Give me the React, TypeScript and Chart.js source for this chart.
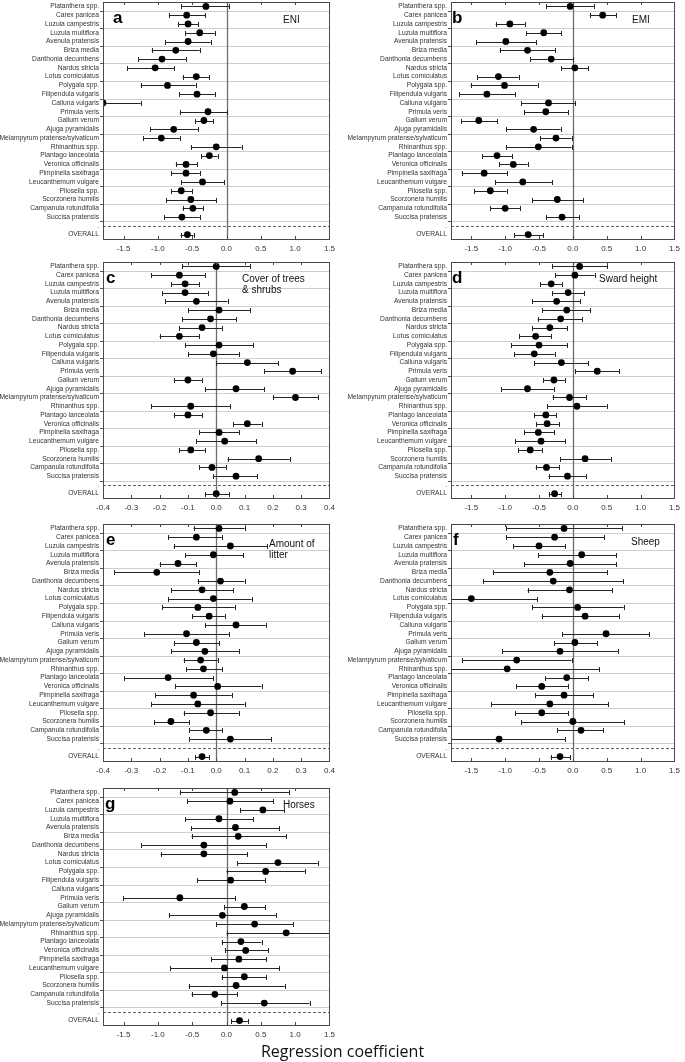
import React, { useEffect, useRef } from 'react';
import { Chart, registerables } from 'chart.js';
Chart.register(...registerables);
Chart.defaults.font.family = '"Liberation Sans", Arial, sans-serif';

const species = [
  'Platanthera spp.', 'Carex panicea', 'Luzula campestris', 'Luzula multiflora', 'Avenula pratensis',
  'Briza media', 'Danthonia decumbens', 'Nardus stricta', 'Lotus corniculatus', 'Polygala spp.',
  'Filipendula vulgaris', 'Calluna vulgaris', 'Primula veris', 'Galium verum', 'Ajuga pyramidalis',
  'Melampyrum pratense/sylvaticum', 'Rhinanthus spp.', 'Plantago lanceolata', 'Veronica officinalis',
  'Pimpinella saxifraga', 'Leucanthemum vulgare', 'Pilosella spp.', 'Scorzonera humilis',
  'Campanula rotundifolia', 'Succisa pratensis', '.', 'OVERALL',
];

const ticksWide = [-1.5, -1.0, -0.5, 0, 0.5, 1.0, 1.5];
const ticksNarrow = [-0.4, -0.3, -0.2, -0.1, 0, 0.1, 0.2, 0.3, 0.4];

// a: ENI
const eniMean = [-0.30,-0.58,-0.56,-0.39,-0.56,-0.74,-0.94,-1.04,-0.44,-0.86,-0.43,-1.80,-0.27,-0.33,-0.77,-0.95,-0.15,-0.25,-0.59,-0.59,-0.35,-0.66,-0.52,-0.49,-0.65,null,-0.57];
const eniLow = [-0.66,-0.84,-0.71,-0.60,-0.89,-1.09,-1.29,-1.45,-0.64,-1.25,-0.69,-2.30,-0.68,-0.46,-1.11,-1.21,-0.52,-0.37,-0.74,-0.81,-0.66,-0.81,-0.88,-0.64,-0.91,null,-0.67];
const eniHigh = [0.04,-0.31,-0.41,-0.17,-0.23,-0.39,-0.59,-0.76,-0.25,-0.45,-0.17,-1.25,0.01,-0.19,-0.41,-0.68,0.22,-0.13,-0.43,-0.39,-0.03,-0.50,-0.15,-0.34,-0.39,null,-0.48];

// b: EMI
const emiMean = [-0.04,0.44,-0.93,-0.43,-0.99,-0.67,-0.32,0.03,-1.10,-1.01,-1.27,-0.36,-0.40,-1.39,-0.58,-0.25,-0.51,-1.12,-0.88,-1.31,-0.74,-1.22,-0.23,-1.00,-0.16,null,-0.66];
const emiLow = [-0.39,0.25,-1.14,-0.69,-1.43,-1.08,-0.63,-0.17,-1.41,-1.51,-1.68,-0.76,-0.72,-1.65,-0.99,-0.48,-0.99,-1.34,-1.09,-1.64,-1.15,-1.46,-0.60,-1.22,-0.40,null,-0.87];
const emiHigh = [0.31,0.64,-0.71,-0.17,-0.54,-0.26,0.00,0.23,-0.80,-0.52,-0.85,0.03,-0.07,-1.12,-0.18,-0.02,-0.02,-0.90,-0.67,-0.97,-0.31,-0.98,0.15,-0.78,0.09,null,-0.44];

// c: Cover of trees & shrubs
const coverMean = [0.00,-0.13,-0.11,-0.11,-0.07,0.01,-0.02,-0.05,-0.13,0.01,-0.01,0.11,0.27,-0.10,0.07,0.28,-0.09,-0.10,0.11,0.01,0.03,-0.09,0.15,-0.015,0.07,null,0.00];
const coverLow = [-0.12,-0.23,-0.16,-0.19,-0.18,-0.10,-0.12,-0.13,-0.20,-0.11,-0.10,0.00,0.17,-0.15,-0.04,0.20,-0.23,-0.15,0.06,-0.06,-0.07,-0.13,0.04,-0.06,-0.01,null,-0.04];
const coverHigh = [0.12,-0.04,-0.06,-0.03,0.04,0.12,0.07,0.02,-0.06,0.13,0.08,0.22,0.37,-0.05,0.17,0.36,0.05,-0.05,0.16,0.08,0.14,-0.04,0.26,0.035,0.145,null,0.045];

// d: Sward height
const swardMean = [0.10,0.03,-0.32,-0.07,-0.24,-0.09,-0.18,-0.34,-0.55,-0.50,-0.57,-0.17,0.36,-0.28,-0.67,-0.05,0.06,-0.40,-0.38,-0.51,-0.47,-0.63,0.18,-0.39,-0.08,null,-0.27];
const swardLow = [-0.31,-0.26,-0.48,-0.31,-0.60,-0.45,-0.52,-0.60,-0.79,-0.91,-0.87,-0.57,0.03,-0.44,-1.06,-0.30,-0.38,-0.57,-0.54,-0.72,-0.85,-0.81,-0.19,-0.55,-0.36,null,-0.35];
const swardHigh = [0.51,0.32,-0.16,0.17,0.11,0.26,0.14,-0.08,-0.32,-0.08,-0.27,0.23,0.68,-0.12,-0.28,0.20,0.50,-0.25,-0.20,-0.28,-0.11,-0.45,0.56,-0.20,0.20,null,-0.17];

// e: Amount of litter
const litterMean = [0.01,-0.07,0.05,-0.01,-0.135,-0.21,0.015,-0.05,-0.01,-0.065,-0.025,0.07,-0.105,-0.07,-0.04,-0.055,-0.045,-0.17,0.005,-0.08,-0.065,-0.02,-0.16,-0.035,0.05,null,-0.05];
const litterLow = [-0.08,-0.17,-0.15,-0.11,-0.20,-0.36,-0.065,-0.16,-0.17,-0.19,-0.085,-0.04,-0.255,-0.15,-0.16,-0.115,-0.105,-0.325,-0.145,-0.215,-0.23,-0.115,-0.22,-0.095,-0.095,null,-0.075];
const litterHigh = [0.10,0.02,0.18,0.095,-0.07,-0.06,0.10,0.06,0.125,0.065,0.03,0.175,0.045,0.01,0.08,0.005,0.02,-0.01,0.16,0.055,0.10,0.08,-0.095,0.02,0.195,null,-0.025];

// f: Sheep
const sheepMean = [-0.13,-0.27,-0.50,0.13,-0.04,-0.34,-0.29,-0.05,-1.50,0.07,0.18,null,0.49,0.03,-0.19,-0.83,-0.97,-0.09,-0.46,-0.13,-0.34,-0.46,0.00,0.12,-1.09,null,-0.19];
const sheepLow = [-0.99,-0.99,-0.88,-0.51,-0.72,-1.18,-1.33,-0.67,-2.5,-0.60,-0.46,null,-0.16,-0.28,-1.04,-1.64,-2.5,-0.41,-0.84,-0.56,-1.21,-0.85,-0.76,-0.23,-2.5,null,-0.33];
const sheepHigh = [0.73,0.46,-0.11,0.64,0.64,0.51,0.74,0.58,-0.53,0.75,0.68,null,1.13,0.36,0.67,-0.02,0.39,0.23,-0.07,0.30,0.52,-0.07,0.76,0.45,-0.11,null,-0.04];

// g: Horses
const horsesMean = [0.12,0.05,0.53,-0.11,0.13,0.17,-0.33,-0.33,0.75,0.57,0.06,null,-0.68,0.26,-0.06,0.41,0.87,0.21,0.28,0.18,-0.03,0.26,0.14,-0.17,0.55,null,0.19];
const horsesLow = [-0.68,-0.57,0.20,-0.60,-0.52,-0.51,-1.24,-0.96,0.16,0.00,-0.43,null,-1.51,-0.03,-0.84,-0.15,0.00,-0.07,-0.02,-0.22,-0.82,-0.07,-0.55,-0.51,-0.08,null,0.07];
const horsesHigh = [0.91,0.68,0.84,0.39,0.77,0.87,0.58,0.30,1.33,1.14,0.56,null,0.13,0.56,0.72,0.97,1.75,0.51,0.61,0.58,0.77,0.58,0.85,0.16,1.21,null,0.31];

type Panel = {
  letter: string; title: string[]; mean: (number | null)[]; low: (number | null)[]; high: (number | null)[];
  min: number; max: number; ticks: number[];
  col: number; top: number; h: number; titleDx: number; titleDy: number; letterDx: number;
};

const panels: Panel[] = [
  { letter: 'a', title: ['ENI'], mean: eniMean, low: eniLow, high: eniHigh, min: -1.8, max: 1.5, ticks: ticksWide, col: 0, top: 0, h: 239, titleDx: 180, titleDy: 18, letterDx: 10 },
  { letter: 'b', title: ['EMI'], mean: emiMean, low: emiLow, high: emiHigh, min: -1.8, max: 1.5, ticks: ticksWide, col: 1, top: 0, h: 239, titleDx: 181, titleDy: 18.5, letterDx: 1 },
  { letter: 'c', title: ['Cover of trees', '& shrubs'], mean: coverMean, low: coverLow, high: coverHigh, min: -0.4, max: 0.4, ticks: ticksNarrow, col: 0, top: 260, h: 238, titleDx: 139, titleDy: 17.5, letterDx: 3 },
  { letter: 'd', title: ['Sward height'], mean: swardMean, low: swardLow, high: swardHigh, min: -1.8, max: 1.5, ticks: ticksWide, col: 1, top: 260, h: 238, titleDx: 148, titleDy: 17, letterDx: 1 },
  { letter: 'e', title: ['Amount of', 'litter'], mean: litterMean, low: litterLow, high: litterHigh, min: -0.4, max: 0.4, ticks: ticksNarrow, col: 0, top: 522, h: 239, titleDx: 166, titleDy: 20.5, letterDx: 3 },
  { letter: 'f', title: ['Sheep'], mean: sheepMean, low: sheepLow, high: sheepHigh, min: -1.8, max: 1.5, ticks: ticksWide, col: 1, top: 522, h: 239, titleDx: 180, titleDy: 18, letterDx: 2 },
  { letter: 'g', title: ['Horses'], mean: horsesMean, low: horsesLow, high: horsesHigh, min: -1.8, max: 1.5, ticks: ticksWide, col: 0, top: 786, h: 239, titleDx: 180, titleDy: 17, letterDx: 2 },
];

const PAD_TOP = 6;
const X_AXIS_H = 22;
const CANVAS_W = 340;

function geometry(p: Panel) {
  const canvasLeft = p.col === 0 ? 0 : 345;
  const axisW = p.col === 0 ? 103 : 106;
  const plotW = p.col === 0 ? 228 : 227;
  const padRight = CANVAS_W - axisW - plotW;
  const canvasTop = p.top - PAD_TOP;
  const canvasH = PAD_TOP + p.h + X_AXIS_H;
  return { canvasLeft, axisW, plotW, padRight, canvasTop, canvasH };
}

function makeForestPlugin(p: Panel) {
  return {
    id: 'forest' + p.letter,
    beforeDatasetsDraw(chart: any) {
      const { ctx, chartArea: a, scales } = chart;
      const x = scales.x, y = scales.y;
      const n = species.length;
      ctx.save();
      // horizontal separators every two rows
      ctx.lineWidth = 1;
      for (let i = 0; i < n - 1; i += 2) {
        const yb = Math.round((y.getPixelForValue(i) + y.getPixelForValue(i + 1)) / 2) + 0.5;
        ctx.strokeStyle = '#cfcfcf';
        ctx.beginPath();
        ctx.moveTo(a.left, yb);
        ctx.lineTo(a.right, yb);
        ctx.stroke();
        ctx.strokeStyle = '#555';
        ctx.beginPath();
        ctx.moveTo(a.left - 3, yb);
        ctx.lineTo(a.left, yb);
        ctx.stroke();
      }
      // dashed separator before OVERALL
      const yd = Math.round(y.getPixelForValue(n - 2)) + 0.5;
      ctx.strokeStyle = '#666';
      ctx.setLineDash([3, 2]);
      ctx.beginPath();
      ctx.moveTo(a.left, yd);
      ctx.lineTo(a.right, yd);
      ctx.stroke();
      ctx.setLineDash([]);
      // zero line
      const x0 = Math.round(x.getPixelForValue(0)) + 0.5;
      ctx.strokeStyle = '#6e6e6e';
      ctx.lineWidth = 1.3;
      ctx.beginPath();
      ctx.moveTo(x0, a.top);
      ctx.lineTo(x0, a.bottom);
      ctx.stroke();
      // whiskers
      ctx.beginPath();
      ctx.rect(a.left, a.top, a.right - a.left, a.bottom - a.top);
      ctx.clip();
      ctx.strokeStyle = '#262626';
      ctx.lineWidth = 1;
      for (let i = 0; i < n; i++) {
        const lo = p.low[i], hi = p.high[i];
        if (lo == null || hi == null) continue;
        const yy = Math.round(y.getPixelForValue(i)) + 0.5;
        const xl = x.getPixelForValue(lo), xh = x.getPixelForValue(hi);
        ctx.beginPath();
        ctx.moveTo(xl, yy);
        ctx.lineTo(xh, yy);
        ctx.moveTo(Math.round(xl) + 0.5, yy - 2.5);
        ctx.lineTo(Math.round(xl) + 0.5, yy + 2.5);
        ctx.moveTo(Math.round(xh) + 0.5, yy - 2.5);
        ctx.lineTo(Math.round(xh) + 0.5, yy + 2.5);
        ctx.stroke();
      }
      ctx.restore();
    },
    afterDraw(chart: any) {
      const { ctx, chartArea: a, scales } = chart;
      const x = scales.x;
      ctx.save();
      // frame
      ctx.strokeStyle = '#4a4a4a';
      ctx.lineWidth = 1;
      ctx.strokeRect(Math.round(a.left) + 0.5, Math.round(a.top) + 0.5, Math.round(a.right - a.left), Math.round(a.bottom - a.top));
      // inner ticks on top and bottom edges
      for (const v of p.ticks) {
        const xp = Math.round(x.getPixelForValue(v)) + 0.5;
        ctx.beginPath();
        ctx.moveTo(xp, a.top);
        ctx.lineTo(xp, a.top + 3);
        ctx.moveTo(xp, a.bottom);
        ctx.lineTo(xp, a.bottom - 3);
        ctx.stroke();
      }
      // panel letter
      ctx.fillStyle = '#000';
      ctx.font = 'bold 17px "Liberation Sans", Arial, sans-serif';
      ctx.textBaseline = 'alphabetic';
      ctx.textAlign = 'left';
      ctx.fillText(p.letter, a.left + p.letterDx, a.top + 21);
      // title
      ctx.font = '10px "Liberation Sans", Arial, sans-serif';
      ctx.textBaseline = 'middle';
      ctx.fillStyle = '#111';
      p.title.forEach((t, k) => ctx.fillText(t, a.left + p.titleDx, a.top + p.titleDy + k * 11));
      ctx.restore();
    },
  };
}

function ForestPanel({ panel }: { panel: Panel }) {
  const ref = useRef<HTMLCanvasElement>(null);
  const g = geometry(panel);
  useEffect(() => {
    const canvas = ref.current;
    if (!canvas) return;
    const points = panel.mean
      .map((m, i) => (m == null ? null : { x: m, y: species[i] }))
      .filter((d) => d !== null);
    const chart = new Chart(canvas, {
      type: 'scatter',
      data: {
        datasets: [
          {
            data: points as any,
            pointRadius: 3.4,
            pointBackgroundColor: '#000',
            pointBorderWidth: 0,
            pointHoverRadius: 3.4,
            clip: 0,
          } as any,
        ],
      },
      options: {
        responsive: false,
        animation: false,
        events: [],
        layout: { padding: { top: PAD_TOP, right: g.padRight, left: 0, bottom: 0 } },
        plugins: { legend: { display: false }, tooltip: { enabled: false } },
        scales: {
          x: {
            type: 'linear',
            min: panel.min,
            max: panel.max,
            afterBuildTicks: (s: any) => {
              s.ticks = panel.ticks.map((v) => ({ value: v }));
            },
            afterFit: (s: any) => {
              s.height = X_AXIS_H;
            },
            grid: { display: false, drawTicks: false },
            border: { display: false },
            ticks: {
              autoSkip: false,
              maxRotation: 0,
              padding: 5,
              color: '#333',
              font: { size: 8 },
              callback: (v: any) => Number(v).toFixed(1),
            },
          },
          y: {
            type: 'category',
            labels: species,
            offset: true,
            afterFit: (s: any) => {
              s.width = g.axisW;
            },
            grid: { display: false, drawTicks: false },
            border: { display: false },
            ticks: { autoSkip: false, padding: 4, color: '#333', font: { size: 6.7 } },
          },
        } as any,
      },
      plugins: [makeForestPlugin(panel)],
    });
    return () => chart.destroy();
  }, []);
  return (
    <canvas
      ref={ref}
      width={CANVAS_W}
      height={g.canvasH}
      style={{ position: 'absolute', left: g.canvasLeft, top: g.canvasTop, width: CANVAS_W, height: g.canvasH }}
    />
  );
}

export default function App() {
  return (
    <div style={{ position: 'absolute', left: 0, top: 0, width: 685, height: 1062, background: '#fff', overflow: 'hidden' }}>
      {panels.map((p) => (
        <ForestPanel key={p.letter} panel={p} />
      ))}
      <div
        style={{
          position: 'absolute', left: 0, width: 685, top: 1041, textAlign: 'center',
          fontFamily: '"Open Sans", "Noto Sans", sans-serif', fontSize: 16, color: '#111', lineHeight: '20px',
        }}
      >
        Regression coefficient
      </div>
    </div>
  );
}
